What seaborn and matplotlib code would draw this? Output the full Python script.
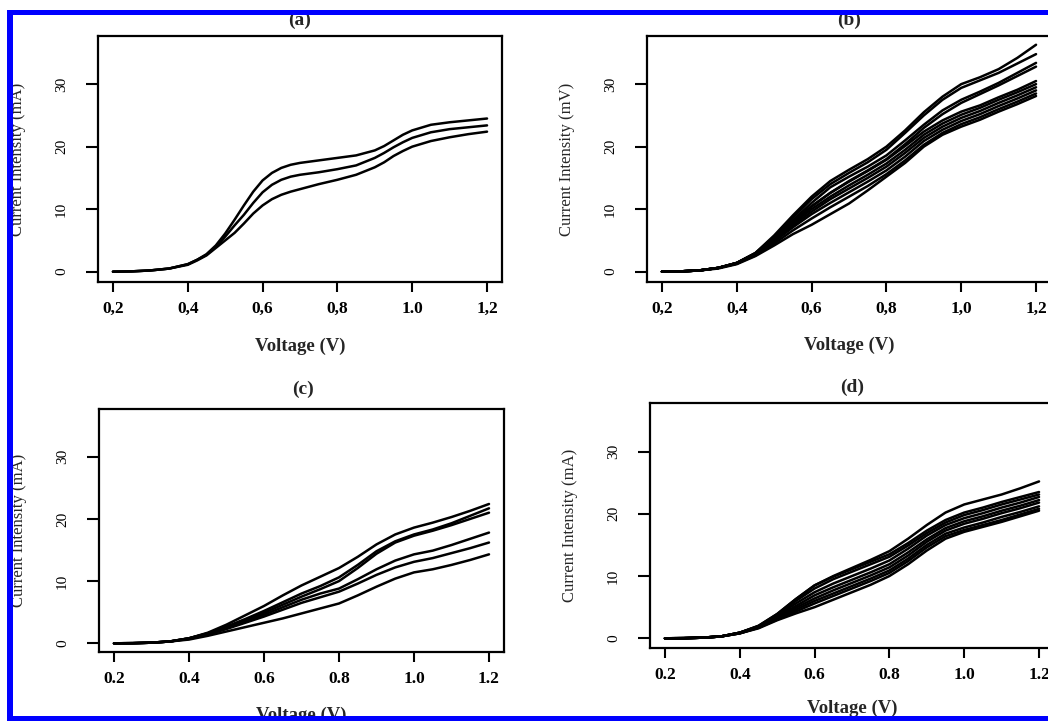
import matplotlib
matplotlib.use("Agg")
import matplotlib.pyplot as plt
import numpy as np
import pandas as pd
import seaborn as sns
from matplotlib.patches import Rectangle

# ---------------- data ----------------
voltage = [0.20, 0.25, 0.30, 0.35, 0.40, 0.45, 0.50, 0.55, 0.60, 0.65, 0.70,
           0.75, 0.80, 0.85, 0.90, 0.95, 1.00, 1.05, 1.10, 1.15, 1.20]

# panel (a) was read on a finer voltage grid
voltage_a = [0.20, 0.25, 0.30, 0.35, 0.40, 0.425, 0.45, 0.475, 0.50, 0.525,
             0.55, 0.575, 0.60, 0.625, 0.65, 0.675, 0.70, 0.75, 0.80, 0.85,
             0.90, 0.925, 0.95, 0.975, 1.00, 1.05, 1.10, 1.15, 1.20]
a1 = [0, 0.05, 0.2, 0.5, 1.2, 1.9, 2.8, 4.2, 6.1, 8.3, 10.6, 12.8, 14.6, 15.8, 16.6,
      17.1, 17.4, 17.8, 18.2, 18.6, 19.4, 20.1, 21.0, 21.9, 22.6, 23.5, 23.9, 24.2, 24.5]
a2 = [0, 0.05, 0.2, 0.5, 1.2, 1.9, 2.7, 4.0, 5.6, 7.4, 9.1, 11.0, 12.7, 13.9, 14.7,
      15.2, 15.5, 15.9, 16.4, 17.0, 18.2, 19.0, 19.9, 20.7, 21.4, 22.3, 22.8, 23.1, 23.4]
a3 = [0, 0.05, 0.2, 0.5, 1.1, 1.8, 2.6, 3.8, 5.0, 6.2, 7.7, 9.3, 10.6, 11.6, 12.3,
      12.8, 13.2, 14.0, 14.7, 15.5, 16.7, 17.5, 18.5, 19.3, 20.0, 20.9, 21.5, 22.0, 22.4]

# panel (b)
b1 = [0, 0.05, 0.2, 0.6, 1.4, 3.0, 5.8, 9.0, 12.0, 14.5, 16.3, 18.0, 20.0, 22.6, 25.5, 28.0, 30.0, 31.1, 32.4, 34.2, 36.3]
b2 = [0, 0.05, 0.2, 0.6, 1.4, 3.0, 5.6, 8.6, 11.6, 14.0, 15.8, 17.5, 19.5, 22.2, 25.0, 27.5, 29.4, 30.6, 31.8, 33.3, 34.8]
b3 = [0, 0.05, 0.2, 0.6, 1.4, 2.9, 5.4, 8.2, 11.0, 13.5, 15.2, 16.8, 18.6, 21.0, 23.5, 25.8, 27.5, 28.8, 30.2, 31.8, 33.4]
b4 = [0, 0.05, 0.2, 0.6, 1.3, 2.8, 5.2, 7.8, 10.4, 12.6, 14.5, 16.2, 18.0, 20.4, 23.0, 25.2, 27.0, 28.4, 29.8, 31.3, 32.8]
b5 = [0, 0.05, 0.2, 0.6, 1.4, 2.9, 5.3, 8.0, 10.5, 12.6, 14.4, 16.1, 17.9, 20.1, 22.4, 24.2, 25.6, 26.6, 27.9, 29.1, 30.5]
b6 = [0, 0.05, 0.2, 0.6, 1.4, 2.9, 5.2, 7.7, 10.0, 12.0, 13.8, 15.5, 17.3, 19.5, 21.9, 23.7, 25.1, 26.2, 27.5, 28.7, 30.0]
b7 = [0, 0.05, 0.2, 0.6, 1.3, 2.8, 5.0, 7.4, 9.6, 11.6, 13.3, 15.0, 16.8, 19.0, 21.4, 23.2, 24.6, 25.7, 27.0, 28.2, 29.5]
b8 = [0, 0.05, 0.2, 0.6, 1.3, 2.7, 4.8, 7.1, 9.2, 11.0, 12.7, 14.4, 16.2, 18.4, 20.9, 22.7, 24.1, 25.2, 26.5, 27.7, 29.0]
b9 = [0, 0.05, 0.2, 0.6, 1.3, 2.6, 4.5, 6.6, 8.5, 10.3, 12.0, 13.7, 15.6, 17.8, 20.3, 22.2, 23.6, 24.7, 26.0, 27.2, 28.5]
b10 = [0, 0.05, 0.2, 0.5, 1.2, 2.5, 4.2, 6.0, 7.5, 9.2, 10.9, 13.0, 15.2, 17.4, 20.0, 21.9, 23.2, 24.3, 25.6, 26.8, 28.1]

# panel (c)
c1 = [0, 0.02, 0.1, 0.3, 0.8, 1.7, 3.0, 4.5, 6.0, 7.7, 9.3, 10.7, 12.1, 13.9, 15.9, 17.5, 18.6, 19.4, 20.3, 21.3, 22.4]
c2 = [0, 0.02, 0.1, 0.3, 0.8, 1.6, 2.7, 3.9, 5.2, 6.6, 8.0, 9.2, 10.6, 12.6, 14.8, 16.4, 17.5, 18.3, 19.3, 20.5, 21.7]
c3 = [0, 0.02, 0.1, 0.3, 0.8, 1.6, 2.6, 3.7, 4.9, 6.2, 7.5, 8.7, 10.0, 12.1, 14.4, 16.2, 17.3, 18.1, 19.0, 20.0, 21.0]
c4 = [0, 0.02, 0.1, 0.3, 0.8, 1.5, 2.4, 3.5, 4.6, 5.8, 7.0, 8.0, 8.8, 10.3, 11.9, 13.3, 14.3, 14.9, 15.8, 16.8, 17.8]
c5 = [0, 0.02, 0.1, 0.3, 0.7, 1.4, 2.3, 3.3, 4.3, 5.4, 6.5, 7.4, 8.3, 9.6, 11.0, 12.2, 13.1, 13.7, 14.5, 15.3, 16.2]
c6 = [0, 0.02, 0.1, 0.3, 0.6, 1.2, 1.9, 2.6, 3.3, 4.0, 4.8, 5.6, 6.4, 7.7, 9.1, 10.4, 11.4, 11.9, 12.6, 13.4, 14.3]

# panel (d)
d1 = [0, 0.02, 0.1, 0.3, 0.9, 2.0, 3.9, 6.3, 8.5, 10.0, 11.3, 12.6, 14.0, 16.0, 18.2, 20.2, 21.5, 22.3, 23.1, 24.1, 25.2]
d2 = [0, 0.02, 0.1, 0.3, 0.9, 2.0, 3.9, 6.3, 8.5, 9.9, 11.1, 12.3, 13.5, 15.3, 17.3, 19.0, 20.2, 21.0, 21.9, 22.7, 23.5]
d3 = [0, 0.02, 0.1, 0.3, 0.9, 1.9, 3.7, 6.0, 8.0, 9.5, 10.7, 11.9, 13.1, 14.9, 16.9, 18.6, 19.8, 20.6, 21.5, 22.3, 23.1]
d4 = [0, 0.02, 0.1, 0.3, 0.9, 1.9, 3.6, 5.6, 7.4, 8.8, 10.0, 11.2, 12.5, 14.4, 16.5, 18.2, 19.3, 20.1, 21.0, 21.8, 22.7]
d5 = [0, 0.02, 0.1, 0.3, 0.9, 1.8, 3.4, 5.2, 6.9, 8.2, 9.4, 10.6, 11.9, 13.8, 15.9, 17.7, 18.8, 19.6, 20.5, 21.3, 22.2]
d6 = [0, 0.02, 0.1, 0.3, 0.8, 1.8, 3.3, 4.9, 6.4, 7.7, 8.9, 10.1, 11.4, 13.3, 15.5, 17.3, 18.4, 19.2, 20.1, 20.9, 21.8]
d7 = [0, 0.02, 0.1, 0.3, 0.8, 1.7, 3.1, 4.6, 6.0, 7.2, 8.4, 9.6, 10.9, 12.8, 15.0, 16.8, 17.8, 18.6, 19.5, 20.3, 21.2]
d8 = [0, 0.02, 0.1, 0.3, 0.8, 1.7, 3.0, 4.3, 5.6, 6.8, 8.0, 9.2, 10.5, 12.4, 14.6, 16.4, 17.4, 18.2, 19.0, 19.9, 20.8]
d9 = [0, 0.02, 0.1, 0.3, 0.8, 1.6, 2.9, 4.0, 5.0, 6.2, 7.4, 8.6, 10.0, 11.9, 14.1, 16.0, 17.1, 17.9, 18.7, 19.6, 20.5]

titles = ["(a)", "(b)", "(c)", "(d)"]
ylabels = ["Current Intensity (mA)", "Current Intensity (mV)",
           "Current Intensity (mA)", "Current Intensity (mA)"]
xlabel = "Voltage (V)"
xtick_values = [0.2, 0.4, 0.6, 0.8, 1.0, 1.2]
ytick_values = [0, 10, 20, 30]
xtick_labels = [["0,2", "0,4", "0,6", "0,8", "1.0", "1,2"],
                ["0,2", "0,4", "0,6", "0,8", "1,0", "1,2"],
                ["0.2", "0.4", "0.6", "0.8", "1.0", "1.2"],
                ["0.2", "0.4", "0.6", "0.8", "1.0", "1.2"]]
ytick_labels = ["0", "10", "20", "30"]

panel_x = [voltage_a, voltage, voltage, voltage]
panel_curves = [[a1, a2, a3],
                [b1, b2, b3, b4, b5, b6, b7, b8, b9, b10],
                [c1, c2, c3, c4, c5, c6],
                [d1, d2, d3, d4, d5, d6, d7, d8, d9]]

# ---------------- style ----------------
sns.set_style("white")
plt.rcParams['font.family'] = ['Liberation Serif', 'DejaVu Serif']

W, H = 1048, 721
fig = plt.figure(figsize=(W / 100, H / 100), dpi=100)
fig.patch.set_facecolor("white")


def rect(l, t, r, b):
    return [l / W, 1 - b / H, (r - l) / W, (b - t) / H]


layout = [
    dict(rect=rect(98, 36, 502, 282), ylim=(-1.65, 37.7), title=(300, 20), xl=-0.262),
    dict(rect=rect(647, 36, 1051, 282), ylim=(-1.65, 37.7), title=(849, 20), xl=-0.256),
    dict(rect=rect(99, 409, 504, 652), ylim=(-1.4, 37.67), title=(303, 389), xl=-0.262),
    dict(rect=rect(650, 403, 1054, 648), ylim=(-1.56, 37.8), title=(852, 387), xl=-0.245),
]

for i, spec in enumerate(layout):
    ax = fig.add_axes(spec["rect"])
    rows = []
    for k, cur in enumerate(panel_curves[i]):
        for v, c in zip(panel_x[i], cur):
            rows.append(dict(voltage=v, current=c, curve=k))
    df = pd.DataFrame(rows)
    sns.lineplot(data=df, x="voltage", y="current", units="curve",
                 estimator=None, color="black", linewidth=1.8, ax=ax,
                 legend=False, solid_joinstyle="round", solid_capstyle="round")
    ax.set_xlim(0.16, 1.24)
    ax.set_ylim(*spec["ylim"])
    for s in ax.spines.values():
        s.set_linewidth(1.6)
        s.set_color("black")
    ax.set_xticks(xtick_values)
    ax.set_xticklabels(xtick_labels[i], fontsize=12.5, fontweight="bold")
    ax.set_yticks(ytick_values)
    ax.set_yticklabels(ytick_labels, fontsize=11, rotation=90,
                       va="center", ha="right")
    ax.tick_params(axis="x", direction="out", length=7.2, width=1.5,
                   pad=6.5, bottom=True, colors="black")
    ax.tick_params(axis="y", direction="out", length=8.6, width=1.5,
                   pad=13, left=True, colors="black")
    ax.set_xlabel(xlabel, fontsize=13.5, fontweight="bold", va="center")
    ax.xaxis.set_label_coords(0.5, spec["xl"])
    ax.set_ylabel(ylabels[i], fontsize=12, va="center")
    ax.yaxis.set_label_coords(-0.197, 0.5)
    ax.grid(False)
    tx, ty = spec["title"]
    fig.text(tx / W, 1 - ty / H, titles[i], fontsize=14, fontweight="bold",
             ha="center", va="center")

# blue frame of the composite image
blue = "#0000ff"
for (x0, y0, x1, y1) in [(7, 10, W, 15), (7, 10, 13, H), (7, 716, W, H)]:
    fig.patches.append(Rectangle((x0 / W, 1 - y1 / H), (x1 - x0) / W,
                                 (y1 - y0) / H, transform=fig.transFigure,
                                 facecolor=blue, edgecolor="none", zorder=10))

fig.savefig("out.png", dpi=100, facecolor="white")
